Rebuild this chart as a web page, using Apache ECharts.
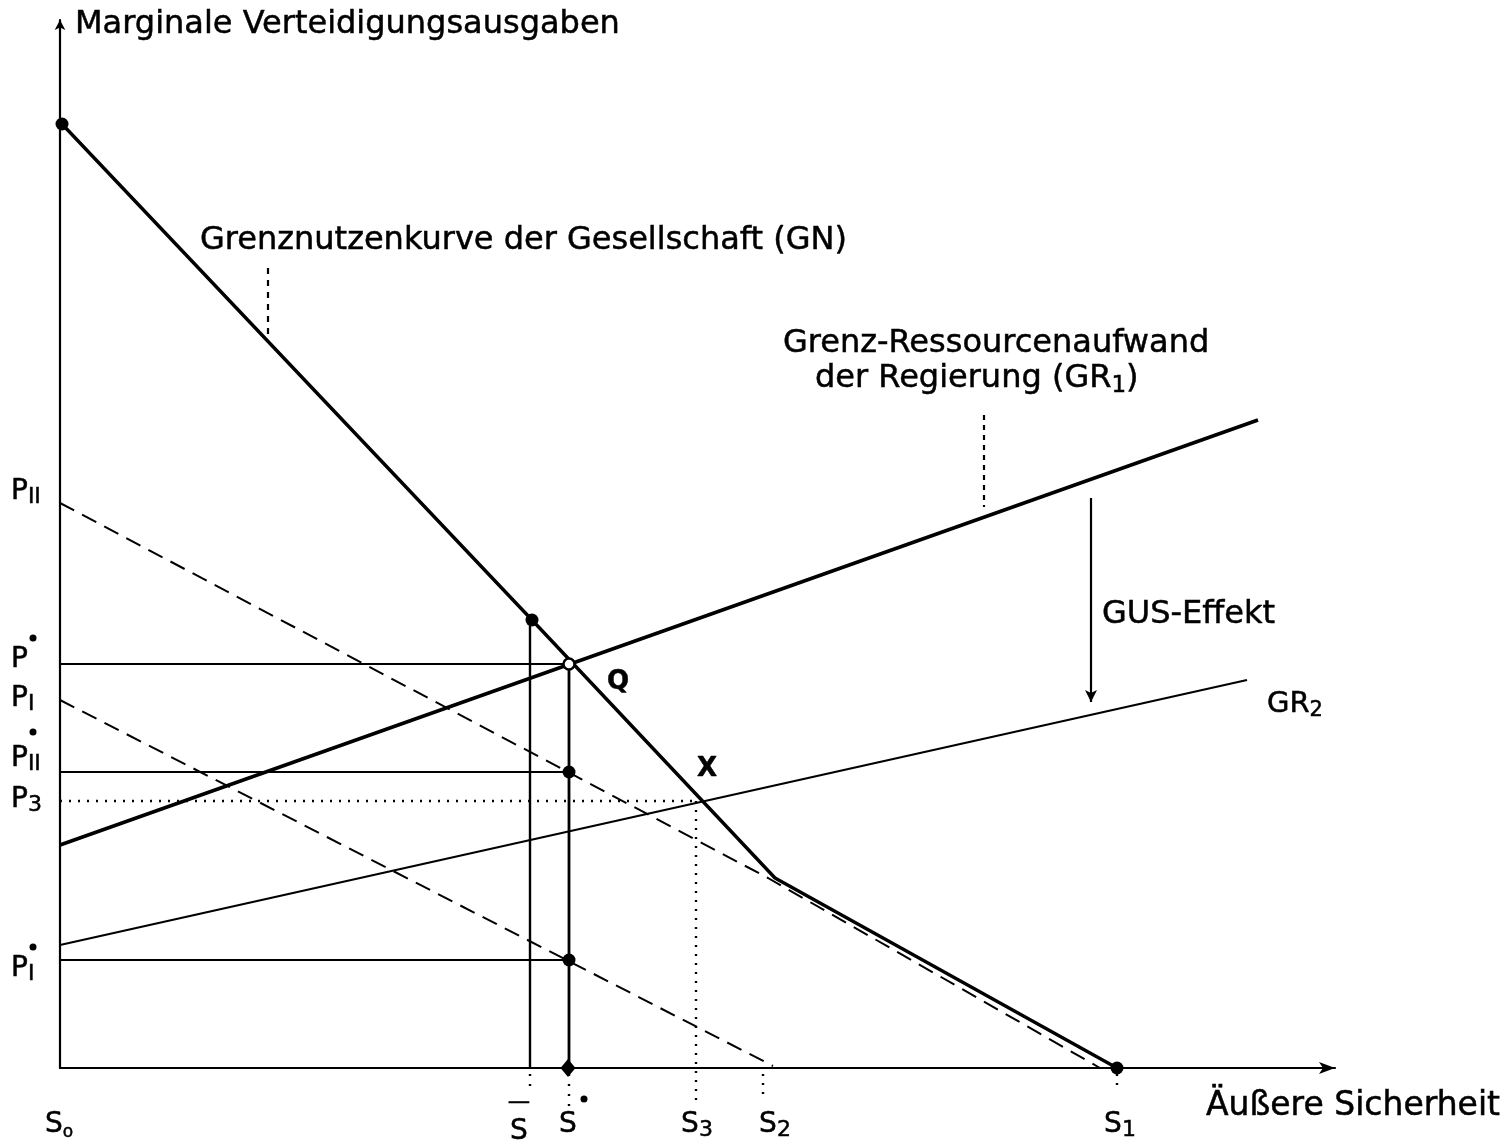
<!DOCTYPE html>
<html><head><meta charset="utf-8">
<script src="https://cdn.jsdelivr.net/npm/echarts@6/dist/echarts.min.js"></script>
<style>html,body{margin:0;padding:0;background:#fff}#c{width:1502px;height:1141px}</style>
</head><body><div id="c"></div>
<script>
// ---- values (economic space) ----
const gnCurve   = [[2,944],[472,448],[715,190],[1057,0]];
const gr1Line   = [[0,223],[1198,648]];
const gr2Line   = [[0,123],[1187,388]];
const pIIDashed = [[0,565],[708,190],[1040,0]];
const pIDashed  = [[0,368],[713,2]];
const pStar = 404, pIIStar = 296, pIStar = 108, p3 = 267;
const sBar = 470, sStar = 509, s3 = 636, s2 = 703, s1 = 1057;
const gusArrow = [[1031,570],[1031,366]];
const filledDots = [[2,944],[472,448],[509,296],[509,108],[1057,0]];
const openDots = [[509,404]];
const axisDots = [[508,0]];

// ---- texts ----
const yAxisTitle = 'Marginale Verteidigungsausgaben';
const xAxisTitle = 'Äußere Sicherheit';
const gnLabel = 'Grenznutzenkurve der Gesellschaft (GN)';
const gr1Label1 = 'Grenz-Ressourcenaufwand';
const gr1Label2 = 'der Regierung (GR{sub|1})';
const gusLabel = 'GUS-Effekt';
const gr2Label = 'GR{sub|2}';
const xTickLabels = ['S{sub|o}', '{bar|—}\nS', 'S', 'S{sub|3}', 'S{sub|2}', 'S{sub|1}'];
const yTickLabels = ['P{sub|II}', 'P', 'P{sub|I}', 'P{sub|II}', 'P{sub|3}', 'P{sub|I}'];

const FF = '"DejaVu Sans", sans-serif';
const K = '#000';

function seg(data, width, type, clip) {
  return { type: 'line', data: data, symbol: 'none', silent: true, clip: clip !== false,
           lineStyle: { color: K, width: width, type: type || 'solid', opacity: 1 }, z: 2 };
}
function txt(x, y, text, size, align, subRatio) {
  const r = subRatio || 0.72;
  const common = { fontFamily: FF, color: K, textBorderColor: K, textBorderWidth: 0.5, opacity: 1 };
  return { value: [x, y], label: Object.assign({ show: true, position: 'inside', formatter: text,
    align: align || 'center', verticalAlign: 'middle', fontSize: size, lineHeight: size * 1.15,
    rich: {
      sub: Object.assign({ fontSize: Math.round(size * r), verticalAlign: 'bottom', lineHeight: size * 1.15 }, common),
      bar: Object.assign({ fontSize: size * 0.8, lineHeight: size * 0.9 }, common)
    } }, common) };
}

const below = -6, belowEnd = -28;
const annotations = [
  txt(15, 1043, yAxisTitle, 32, 'left'),
  txt(140, 827, gnLabel, 32, 'left'),
  txt(723, 724, gr1Label1, 32, 'left'),
  txt(755, 689, gr1Label2, 32, 'left'),
  txt(1042, 453, gusLabel, 32, 'left'),
  txt(1207, 364, gr2Label, 29, 'left'),
  txt(558, 386, 'Q', 26, 'center'),
  txt(647, 299, 'X', 26, 'center'),
  txt(1146, -38, xAxisTitle, 33, 'left'),
  txt(-1, -57, xTickLabels[0], 28, 'center', 0.6),
  txt(459, -51, xTickLabels[1], 28),
  txt(508, -57, xTickLabels[2], 28),
  txt(637, -57, xTickLabels[3], 28, 'center', 0.8),
  txt(715, -57, xTickLabels[4], 28, 'center', 0.8),
  txt(1060, -57, xTickLabels[5], 28, 'center', 0.8),
  txt(-49, 576, yTickLabels[0], 28, 'left', 0.78),
  txt(-49, 408, yTickLabels[1], 28, 'left'),
  txt(-49, 369, yTickLabels[2], 28, 'left', 0.78),
  txt(-49, 309, yTickLabels[3], 28, 'left', 0.78),
  txt(-49, 268, yTickLabels[4], 28, 'left', 0.8),
  txt(-49, 99, yTickLabels[5], 28, 'left', 0.78)
];
annotations[6].label.fontWeight = 'bold';
annotations[7].label.fontWeight = 'bold';

const starMarks = [[-27,430],[-27,336],[-27,121],[524,-31]];

const option = {
  animation: false,
  backgroundColor: '#fff',
  grid: { left: 60, right: 167, top: 20, bottom: 73, containLabel: false },
  xAxis: { type: 'value', min: 0, max: 1275,
    axisLine: { show: true, onZero: false, symbol: ['none', 'arrow'], symbolSize: [9, 16], lineStyle: { color: K, width: 2.2 } },
    axisTick: { show: false }, axisLabel: { show: false }, splitLine: { show: false } },
  yAxis: { type: 'value', min: 0, max: 1048,
    axisLine: { show: true, onZero: false, symbol: ['none', 'arrow'], symbolSize: [8, 10], lineStyle: { color: K, width: 2.2 } },
    axisTick: { show: false }, axisLabel: { show: false }, splitLine: { show: false } },
  series: [
    seg(gnCurve, 3.4),
    seg(gr1Line, 3.6),
    seg(gr2Line, 2.2),
    seg(pIIDashed, 2, [16, 9]),
    seg(pIDashed, 2, [16, 9]),
    seg([[0, pStar], [sStar, pStar]], 2.2),
    seg([[0, pIIStar], [sStar, pIIStar]], 2.2),
    seg([[0, pIStar], [sStar, pIStar]], 2.2),
    seg([[0, p3], [s3, p3]], 2.4, [2, 7]),
    seg([[sBar, gnCurve[1][1]], [sBar, 0]], 2.4),
    seg([[sStar, pStar], [sStar, 0]], 2.8),
    seg([[s3, p3], [s3, belowEnd - 8]], 2.4, [2, 7], false),
    seg([[sBar, below], [sBar, belowEnd + 6]], 2.4, [2, 8], false),
    seg([[sStar, below], [sStar, belowEnd - 10]], 2.4, [2, 8], false),
    seg([[s2, below], [s2, belowEnd]], 2.4, [2, 7], false),
    seg([[s1, below], [s1, belowEnd + 4]], 2.4, [2, 7], false),
    seg([[208, 800], [208, 733]], 2.2, [6, 6]),
    seg([[924, 653], [924, 561]], 2.2, [5, 5]),
    { type: 'line', data: [], symbol: 'none', silent: true,
      markLine: { silent: true, symbol: ['none', 'arrow'], symbolSize: [9, 12], label: { show: false },
        lineStyle: { color: K, width: 2.2, type: 'solid', opacity: 1 },
        data: [[{ coord: gusArrow[0] }, { coord: gusArrow[1] }]] } },
    { type: 'scatter', data: filledDots, symbol: 'circle', symbolSize: 13, clip: false, silent: true,
      itemStyle: { color: K, opacity: 1 }, z: 5 },
    { type: 'scatter', data: openDots, symbol: 'circle', symbolSize: 11, clip: false, silent: true,
      itemStyle: { color: '#fff', borderColor: K, borderWidth: 2.5, opacity: 1 }, z: 5 },
    { type: 'scatter', data: axisDots, symbol: 'diamond', symbolSize: [15, 18], clip: false, silent: true,
      itemStyle: { color: K, opacity: 1 }, z: 5 },
    { type: 'scatter', data: starMarks, symbol: 'circle', symbolSize: 7, clip: false, silent: true,
      itemStyle: { color: K, opacity: 1 }, z: 5 },
    { type: 'scatter', data: annotations, symbolSize: 0, clip: false, silent: true, z: 6,
      itemStyle: { opacity: 1 } }
  ]
};
const chart = echarts.init(document.getElementById('c'), null, { renderer: 'canvas' });
chart.setOption(option);
</script></body></html>
